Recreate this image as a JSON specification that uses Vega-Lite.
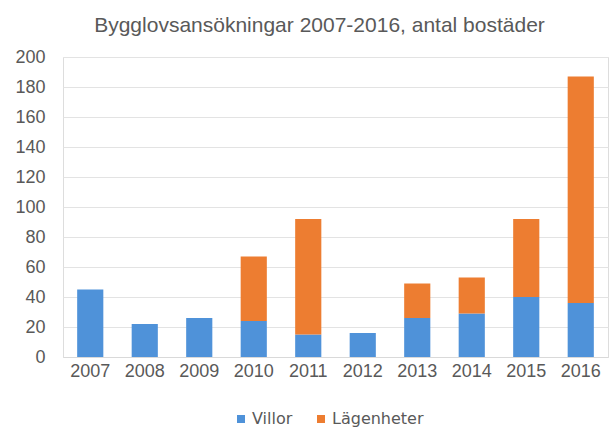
{
  "$schema": "https://vega.github.io/schema/vega-lite/v6.json",
  "autosize": "none",
  "width": 545,
  "height": 300,
  "padding": {"left": 63, "top": 57, "right": 2, "bottom": 71},
  "background": "white",
  "title": {
    "text": "Bygglovsansökningar 2007-2016, antal bostäder",
    "font": "Liberation Sans",
    "fontSize": 21,
    "fontWeight": "normal",
    "color": "#595959",
    "anchor": "middle",
    "dx": -16,
    "offset": 12
  },
  "data": {
    "values": [
      {"ar": "2007", "serie": "Villor", "antal": 45},
      {"ar": "2008", "serie": "Villor", "antal": 22},
      {"ar": "2009", "serie": "Villor", "antal": 26},
      {"ar": "2010", "serie": "Villor", "antal": 24},
      {"ar": "2010", "serie": "Lägenheter", "antal": 43},
      {"ar": "2011", "serie": "Villor", "antal": 15},
      {"ar": "2011", "serie": "Lägenheter", "antal": 77},
      {"ar": "2012", "serie": "Villor", "antal": 16},
      {"ar": "2013", "serie": "Villor", "antal": 26},
      {"ar": "2013", "serie": "Lägenheter", "antal": 23},
      {"ar": "2014", "serie": "Villor", "antal": 29},
      {"ar": "2014", "serie": "Lägenheter", "antal": 24},
      {"ar": "2015", "serie": "Villor", "antal": 40},
      {"ar": "2015", "serie": "Lägenheter", "antal": 52},
      {"ar": "2016", "serie": "Villor", "antal": 36},
      {"ar": "2016", "serie": "Lägenheter", "antal": 151}
    ]
  },
  "mark": {"type": "bar"},
  "encoding": {
    "x": {
      "field": "ar",
      "type": "nominal",
      "title": null,
      "scale": {"paddingInner": 0.52, "paddingOuter": 0.26},
      "axis": {
        "labelAngle": 0,
        "labelFont": "Liberation Sans",
        "labelFontSize": 18,
        "labelColor": "#595959",
        "labelPadding": 5,
        "ticks": false,
        "domainColor": "#d9d9d9",
        "grid": false
      }
    },
    "y": {
      "field": "antal",
      "type": "quantitative",
      "stack": "zero",
      "title": null,
      "scale": {"domain": [0, 200], "nice": false},
      "axis": {
        "values": [0, 20, 40, 60, 80, 100, 120, 140, 160, 180, 200],
        "labelFont": "Liberation Sans",
        "labelFontSize": 18,
        "labelColor": "#595959",
        "labelPadding": 18,
        "ticks": false,
        "domain": false,
        "gridColor": "#e3e3e3"
      }
    },
    "color": {
      "field": "serie",
      "type": "nominal",
      "scale": {"domain": ["Villor", "Lägenheter"], "range": ["#4f92d9", "#ed7d31"]},
      "legend": {
        "title": null,
        "orient": "none",
        "legendX": 170,
        "legendY": 354,
        "direction": "horizontal",
        "symbolType": "square",
        "symbolSize": 64,
        "symbolStrokeWidth": 0,
        "labelOffset": 3,
        "labelFont": "DejaVu Sans",
        "labelFontSize": 16,
        "labelColor": "#595959",
        "columnPadding": 20,
        "offset": 0
      }
    },
    "order": {"field": "serie", "sort": "descending"}
  }
}
